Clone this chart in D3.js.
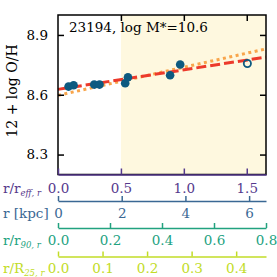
<!DOCTYPE html>
<html>
<head>
<meta charset="utf-8">
<script src="https://cdn.jsdelivr.net/npm/d3@7"></script>
<style>
  body { margin: 0; background: #fff; }
  svg text { font-family: "DejaVu Serif", "Liberation Serif", serif; }
</style>
</head>
<body>
<div id="chart"></div>
<script>
// radial metallicity profile for one galaxy
var galaxyLabel = "23194, log M*=10.6";
var radius = [0.084, 0.124, 0.288, 0.330, 0.534, 0.556, 0.891, 0.971];
var oh = [8.641, 8.648, 8.651, 8.651, 8.658, 8.688, 8.698, 8.752];
var radiusOpen = [1.505];
var ohOpen = [8.757];
// fits: intercept, slope
var fitDashed = [8.627, 0.098];
var fitDotted = [8.597, 0.141];
var yTicks = [8.3, 8.6, 8.9];
var reffTicks = [0.0, 0.5, 1.0, 1.5];
var kpcTicks = [0, 2, 4, 6];
var r90Ticks = [0.0, 0.2, 0.4, 0.6, 0.8];
var r25Ticks = [0.0, 0.1, 0.2, 0.3, 0.4];

var W = 277, H = 277;
var pLeft = 58, pRight = 266, pTop = 15, pBottom = 174.5;

var svg = d3.select("#chart")
    .append("svg")
    .attr("width", W)
    .attr("height", H);

var x = d3.scaleLinear().domain([0, 1.653]).range([pLeft, pRight]);
var y = d3.scaleLinear().domain([8.2, 9.0]).range([pBottom, pTop]);

// shaded outer region
svg.append("rect")
    .attr("x", x(0.5)).attr("y", pTop)
    .attr("width", pRight - x(0.5)).attr("height", pBottom - pTop)
    .attr("fill", "#fef8df");

// fit lines
var xs = [0, 1.653];
var line = d3.line().x(d => x(d[0])).y(d => y(d[1]));
svg.append("path")
    .attr("d", line(xs.map(v => [v, fitDotted[0] + fitDotted[1] * v])))
    .attr("fill", "none")
    .attr("stroke", "#f8a54b")
    .attr("stroke-width", 3)
    .attr("stroke-dasharray", "3,3.5");
svg.append("path")
    .attr("d", line(xs.map(v => [v, fitDashed[0] + fitDashed[1] * v])))
    .attr("fill", "none")
    .attr("stroke", "#ec3a2b")
    .attr("stroke-width", 3)
    .attr("stroke-dasharray", "10,4");

// points
svg.selectAll("circle.pt").data(radius).enter()
    .append("circle")
        .attr("class", "pt")
        .attr("cx", d => x(d))
        .attr("cy", (d, i) => y(oh[i]))
        .attr("r", 4.3)
        .attr("fill", "#0d5a80");
svg.selectAll("circle.open").data(radiusOpen).enter()
    .append("circle")
        .attr("class", "open")
        .attr("cx", d => x(d))
        .attr("cy", (d, i) => y(ohOpen[i]))
        .attr("r", 3.6)
        .attr("fill", "none")
        .attr("stroke", "#0d5a80")
        .attr("stroke-width", 1.8);

// frame and inward ticks
svg.append("rect")
    .attr("x", pLeft).attr("y", pTop)
    .attr("width", pRight - pLeft).attr("height", pBottom - pTop)
    .attr("fill", "none").attr("stroke", "#000").attr("stroke-width", 1.5);

var yAxis = svg.append("g")
    .attr("transform", "translate(" + pLeft + ",0)")
    .call(d3.axisLeft(y).tickValues(yTicks).tickFormat(d3.format(".1f"))
        .tickSizeInner(-6).tickSizeOuter(0).tickPadding(10));
var yAxisR = svg.append("g")
    .attr("transform", "translate(" + pRight + ",0)")
    .call(d3.axisRight(y).tickValues(yTicks).tickFormat("")
        .tickSizeInner(-6).tickSizeOuter(0));
var xTop = svg.append("g")
    .attr("transform", "translate(0," + pTop + ")")
    .call(d3.axisTop(x).tickValues([0.5, 1.0, 1.5]).tickFormat("")
        .tickSizeInner(-6).tickSizeOuter(0));
[yAxis, yAxisR, xTop].forEach(g => {
    g.attr("font-family", null);
    g.select(".domain").remove();
    g.selectAll("line").attr("stroke", "#000").attr("stroke-width", 1.5);
    g.selectAll("text").attr("font-size", 13.5).attr("fill", "#000");
});

// bottom axes, each in its own colour
var axes = [
    {name: "r/r", sub: "eff, r", scale: x, ticks: reffTicks, fmt: ".1f", pos: pBottom, color: "#55398c", pad: 9, size: 6},
    {name: "r [kpc]", sub: "", scale: d3.scaleLinear().domain([0, 6.53]).range([pLeft, pRight]), ticks: kpcTicks, fmt: "d", pos: 201, color: "#3a6894", pad: 7, size: 5},
    {name: "r/r", sub: "90, r", scale: d3.scaleLinear().domain([0, 0.8]).range([pLeft, pRight]), ticks: r90Ticks, fmt: ".1f", pos: 228, color: "#22a27f", pad: 7, size: 5},
    {name: "r/R", sub: "25, r", scale: d3.scaleLinear().domain([0, 0.467]).range([pLeft, pRight]), ticks: r25Ticks, fmt: ".1f", pos: 256.5, color: "#c2dc27", pad: 7, size: 5}
];

axes.forEach(a => {
    var g = svg.append("g")
        .attr("transform", "translate(0," + a.pos + ")")
        .call(d3.axisBottom(a.scale).tickValues(a.ticks).tickFormat(d3.format(a.fmt))
            .tickSizeInner(-a.size).tickSizeOuter(0).tickPadding(a.pad));
    g.attr("font-family", null);
    g.select(".domain").attr("stroke", a.color).attr("stroke-width", 1.5);
    g.selectAll("line").attr("stroke", a.color).attr("stroke-width", 1.5);
    g.selectAll("text").attr("fill", a.color).attr("font-size", 13.5);
    var t = svg.append("text")
        .attr("x", 3)
        .attr("y", a.pos + a.pad + 9.5)
        .attr("fill", a.color)
        .attr("font-size", 13.5)
        .text(a.name);
    if (a.sub) {
        t.append("tspan")
            .attr("font-size", 8.5)
            .attr("font-style", "italic")
            .attr("dy", 3)
            .text(a.sub);
    }
});

// title inside the plot
svg.append("text")
    .attr("x", 69)
    .attr("y", 32)
    .attr("font-size", 13.5)
    .attr("fill", "#000")
    .text(galaxyLabel);

// y label
svg.append("text")
    .attr("transform", "translate(17,91) rotate(-90)")
    .attr("text-anchor", "middle")
    .attr("font-size", 14)
    .attr("fill", "#000")
    .text("12 + log O/H");
</script>
</body>
</html>
